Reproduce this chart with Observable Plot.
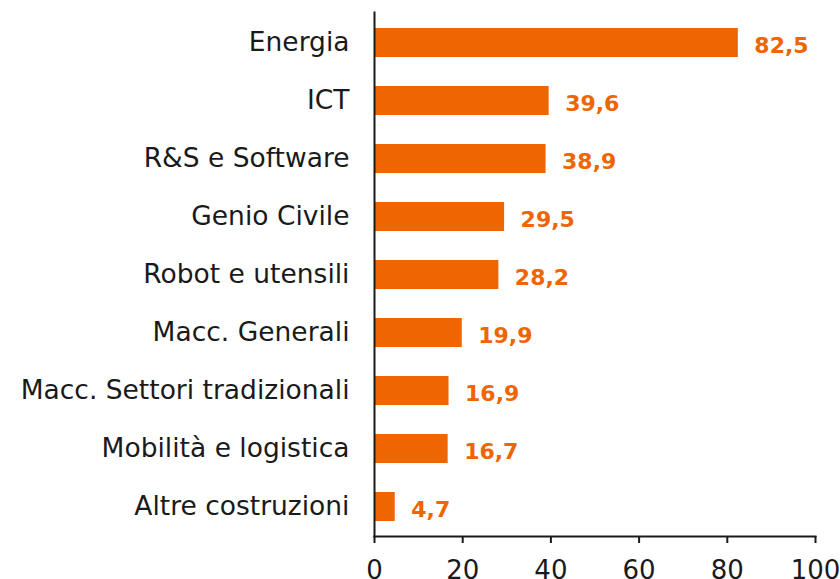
<!DOCTYPE html>
<html>
<head>
<meta charset="utf-8">
<script src="https://cdn.jsdelivr.net/npm/d3@7"></script>
<script src="https://cdn.jsdelivr.net/npm/@observablehq/plot@0.6"></script>
<style>
  html, body { margin: 0; padding: 0; background: #fff; overflow: hidden; }
  #chart svg { display: block; }
</style>
</head>
<body>
<div id="chart"></div>
<script>
const categories = [
  "Energia",
  "ICT",
  "R&S e Software",
  "Genio Civile",
  "Robot e utensili",
  "Macc. Generali",
  "Macc. Settori tradizionali",
  "Mobilità e logistica",
  "Altre costruzioni"
];
const values = [82.5, 39.6, 38.9, 29.5, 28.2, 19.9, 16.9, 16.7, 4.7];
const xTicks = [0, 20, 40, 60, 80, 100];

const data = categories.map((c, i) => ({ cat: c, val: values[i] }));
const orange = "#EE6502";
const fmt = v => v.toFixed(1).replace(".", ",");

const chart = Plot.plot({
  width: 840,
  height: 579,
  marginTop: 12,
  marginBottom: 43,
  marginLeft: 374,
  marginRight: 25,
  style: { fontFamily: "DejaVu Sans, sans-serif", color: "#1a1a1a", background: "#fff", overflow: "visible" },
  x: { domain: [0, 100] },
  y: { domain: categories, paddingInner: 0.5, paddingOuter: 0.25 },
  marks: [
    Plot.barX(data, { y: "cat", x: "val", fill: orange }),
    Plot.text(data, {
      y: "cat", x: "val", text: d => fmt(d.val),
      textAnchor: "start", dx: 16, dy: 3,
      fill: orange, fontWeight: "bold", fontSize: 22
    }),
    Plot.axisY({ tickSize: 0, tickPadding: 25, fontSize: 26.5, label: null }),
    Plot.axisX({ ticks: xTicks, tickSize: 7, tickPadding: 17, fontSize: 26, label: null, stroke: "#1a1a1a", strokeWidth: 2 }),
    Plot.frame({ anchor: "left", stroke: "#1a1a1a", strokeWidth: 2 }),
    Plot.frame({ anchor: "bottom", stroke: "#1a1a1a", strokeWidth: 2 })
  ]
});
document.getElementById("chart").appendChild(chart);
</script>
</body>
</html>
